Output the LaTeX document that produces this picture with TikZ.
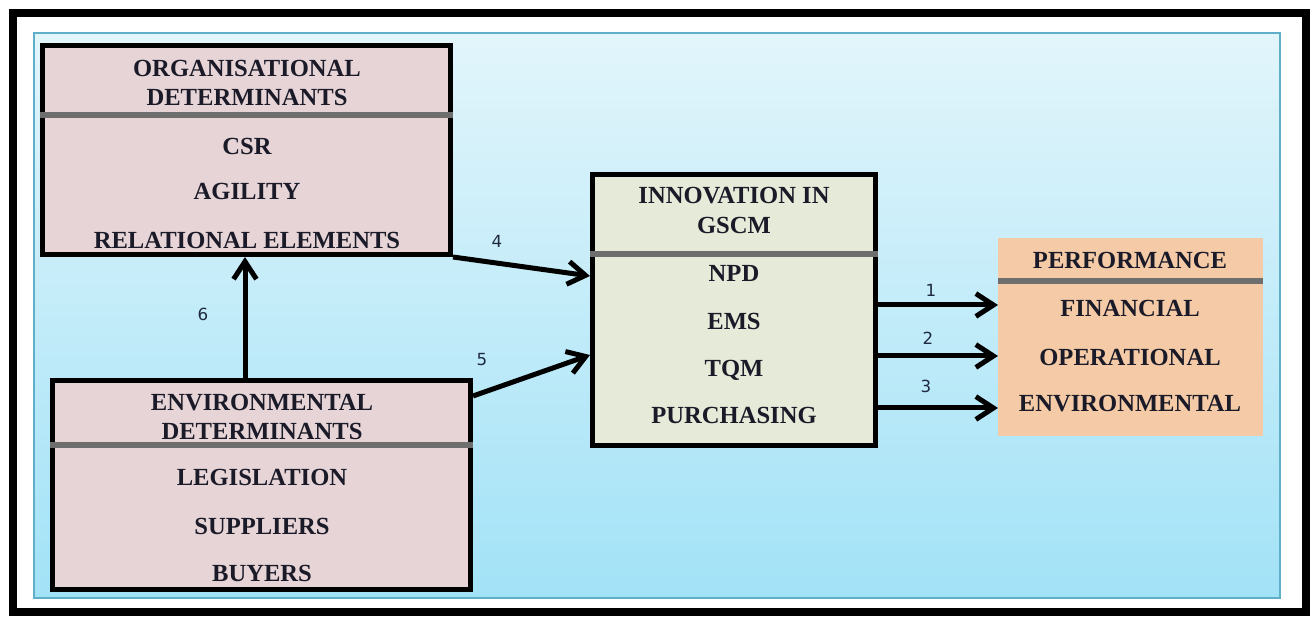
\documentclass[tikz,border=0pt]{standalone}
\usepackage{fontspec}
\setmainfont{Liberation Serif}
\newfontfamily\numfont{DejaVu Sans}
\usetikzlibrary{arrows.meta,fit}

\definecolor{panelTop}{HTML}{E2F5FB}
\definecolor{panelBot}{HTML}{A2E2F7}
\definecolor{panelEdge}{HTML}{5FAFC9}
\definecolor{orgFill}{HTML}{E6D4D6}
\definecolor{innFill}{HTML}{E6EAD8}
\definecolor{perfFill}{HTML}{F5CBA7}
\definecolor{sepGray}{HTML}{6E6E6E}
\definecolor{txt}{HTML}{1A1A28}
\definecolor{numC}{HTML}{1F2A40}

\begin{document}
\begin{tikzpicture}[x=0.02cm,y=-0.02cm,
  box/.style={rectangle, draw=black, line width=0.1cm, inner sep=0pt},
  flatbox/.style={rectangle, draw=none, inner sep=0pt, outer sep=0pt},
  sep/.style={draw=sepGray, line width=0.11cm},
  lbl/.style={font=\fontsize{14}{16}\selectfont\bfseries, text=txt,
    inner sep=0pt, text height=9.4pt, text depth=0pt},
  num/.style={font=\numfont\fontsize{9.5}{11}\selectfont, text=numC, inner sep=0pt},
  conn/.style={draw=black, line width=0.1cm,
    -{Straight Barb[length=10pt,width=13pt]}}]

\useasboundingbox (0,0) rectangle (1315,617);
\fill[white] (0,0) rectangle (1315,617);

% outer frame and shaded panel
\draw[line width=0.16cm] (13,13) rectangle (1305.5,612.5);
\shade[top color=panelTop, bottom color=panelBot] (34,33) rectangle (1280,598);
\draw[panelEdge, line width=0.04cm] (34,33) rectangle (1280,598);

% boxes
\node[box, fill=orgFill, fit={(42.5,45.5) (450.5,254.5)}] (org) {};
\node[box, fill=orgFill, fit={(52.5,380.5) (470.5,589.5)}] (env) {};
\node[box, fill=innFill, fit={(592.5,174.5) (875.5,445.5)}] (innov) {};
\node[flatbox, fill=perfFill, fit={(998,238) (1263,436)}] (perf) {};

% header separators
\draw[sep] (org.west |- 0,115) -- (org.east |- 0,115);
\draw[sep] (env.west |- 0,445) -- (env.east |- 0,445);
\draw[sep] (innov.west |- 0,254) -- (innov.east |- 0,254);
\draw[sep] (perf.west |- 0,281) -- (perf.east |- 0,281);

% organisational determinants
\node[lbl] (orgH1) at (247,68) {ORGANISATIONAL};
\node[lbl] (orgH2) at (247,97) {DETERMINANTS};
\node[lbl] (csr) at (247,146) {CSR};
\node[lbl] (agil) at (247,191) {AGILITY};
\node[lbl] (rel) at (247,240) {RELATIONAL ELEMENTS};

% environmental determinants
\node[lbl] (envH1) at (262,402) {ENVIRONMENTAL};
\node[lbl] (envH2) at (262,431) {DETERMINANTS};
\node[lbl] (legis) at (262,477) {LEGISLATION};
\node[lbl] (supp) at (262,526) {SUPPLIERS};
\node[lbl] (buy) at (262,573) {BUYERS};

% innovation in GSCM
\node[lbl] (innH1) at (734,195) {INNOVATION IN};
\node[lbl] (innH2) at (734,225) {GSCM};
\node[lbl] (npd) at (734,273) {NPD};
\node[lbl] (ems) at (734,321) {EMS};
\node[lbl] (tqm) at (734,368) {TQM};
\node[lbl] (purch) at (734,415) {PURCHASING};

% performance
\node[lbl] (perfH) at (1130,260) {PERFORMANCE};
\node[lbl] (fin) at (1130,308) {FINANCIAL};
\node[lbl] (oper) at (1130,357) {OPERATIONAL};
\node[lbl] (envp) at (1130,403) {ENVIRONMENTAL};

% connectors
\coordinate (x6) at (245,0);
\draw[conn] (env.north -| x6) -- (org.south -| x6);
\draw[conn] (org.south east) -- (innov.west |- 0,276);
\draw[conn] (env.east |- 0,396) -- (innov.west |- 0,355);
\draw[conn] (innov.east |- 0,305) -- (perf.west |- 0,305);
\draw[conn] (innov.east |- 0,356) -- (perf.west |- 0,356);
\draw[conn] (innov.east |- 0,408) -- (perf.west |- 0,408);

% connector numbers
\node[num] (n6) at (203,314) {6};
\node[num] (n4) at (497,241) {4};
\node[num] (n5) at (482,360) {5};
\node[num] (n1) at (931,290) {1};
\node[num] (n2) at (928,338) {2};
\node[num] (n3) at (926,386) {3};
\end{tikzpicture}
\end{document}
